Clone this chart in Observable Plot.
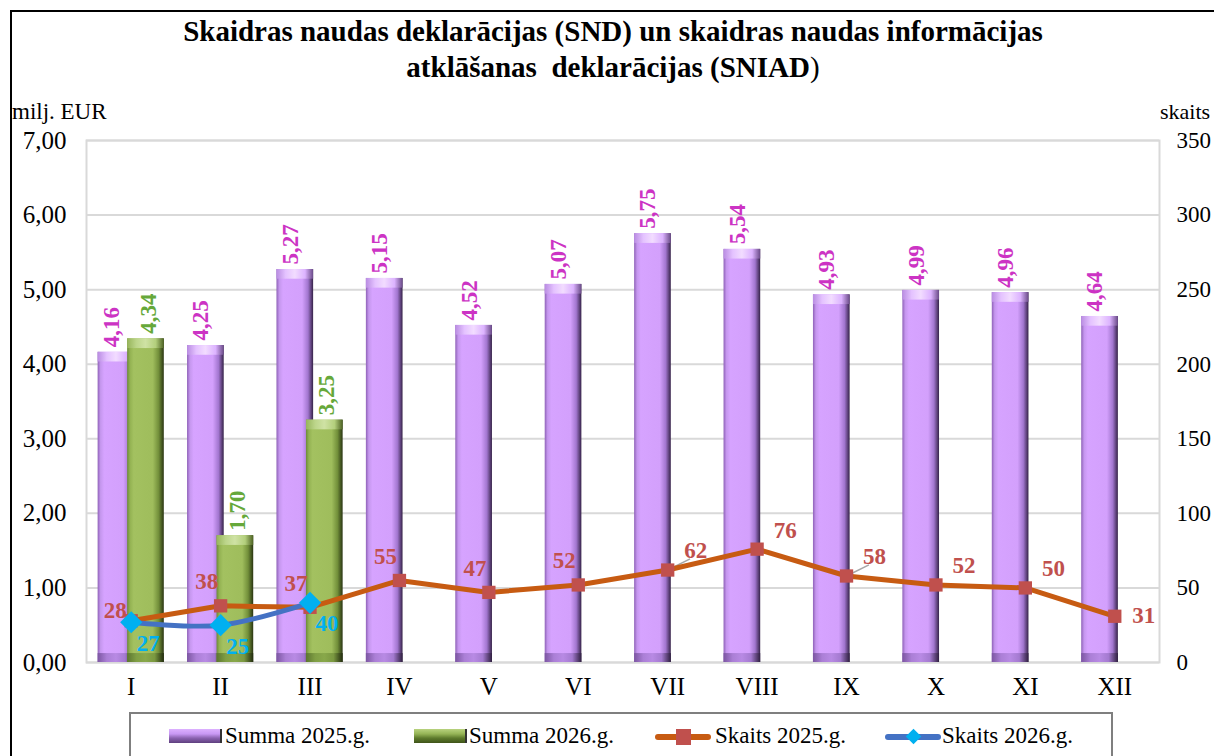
<!DOCTYPE html>
<html>
<head>
<meta charset="utf-8">
<script src="https://cdn.jsdelivr.net/npm/d3@7"></script>
<script src="https://cdn.jsdelivr.net/npm/@observablehq/plot@0.6"></script>
<style>
  body { margin: 0; background: #fff; }
  #wrap { position: relative; width: 1214px; height: 756px; overflow: hidden; font-family: "Liberation Serif", "Times New Roman", serif; color: #000; }
  .abs { position: absolute; white-space: nowrap; }
  .lg-text { font-size: 23px; top: 724px; line-height: 24px; }
</style>
</head>
<body>
<div id="wrap">
  <div class="abs" style="left:10px;top:10px;width:1300px;height:800px;border-left:2px solid #000;border-top:2px solid #000;"></div>
  <div class="abs" id="title" style="left:0;top:13px;width:1226px;text-align:center;font-weight:bold;font-size:29px;line-height:36px;">Skaidras naudas deklarācijas (SND) un skaidras naudas informācijas<br>atklāšanas&nbsp; deklarācijas (SNIAD<span style="font-weight:normal">)</span></div>
  <div class="abs" style="left:12px;top:99px;font-size:23px;">milj. EUR</div>
  <div class="abs" style="left:1160px;top:99px;font-size:22px;">skaits</div>
  <div id="chart" class="abs" style="left:0;top:100px;"></div>
  <div class="abs" style="left:129px;top:712px;width:980px;height:80px;border:2px solid #7f7f7f;"></div>
  <div id="legend"></div>
</div>
<script>
// ---- data ----
const months = ["I","II","III","IV","V","VI","VII","VIII","IX","X","XI","XII"];
const summa2025 = [4.16,4.25,5.27,5.15,4.52,5.07,5.75,5.54,4.93,4.99,4.96,4.64];
const summa2026 = [4.34,1.70,3.25];
const skaits2025 = [28,38,37,55,47,52,62,76,58,52,50,31];
const skaits2026 = [27,25,40];
const leftTicks = [0,1,2,3,4,5,6,7];
const rightTicks = [0,50,100,150,200,250,300,350];
const seriesNames = ["Summa 2025.g.","Summa 2026.g.","Skaits 2025.g.","Skaits 2026.g."];

const k = rightTicks[rightTicks.length-1] / leftTicks[leftTicks.length-1]; // 50
const d25 = months.map((m,i) => ({i, m, v: summa2025[i], c: skaits2025[i] / k, n: skaits2025[i]}));
const d26 = summa2026.map((v,i) => ({i, m: months[i], v, c: skaits2026[i] / k, n: skaits2026[i]}));
const fmt = v => v.toFixed(2).replace(".", ",");

const C = {
  purpleLbl: "#cc33c4", greenLbl: "#66a83a",
  orange: "#c75b12", red: "#c0504d", blue: "#4472c4", cyan: "#00b0f0"
};
const lblFont = {fontWeight: "bold", fontSize: 23, fontFamily: "Liberation Serif"};

const chart = Plot.plot({
  width: 1214, height: 610,
  marginTop: 40, marginBottom: 48, marginLeft: 86, marginRight: 55,
  style: {fontFamily: "Liberation Serif", fontSize: "25px", color: "#000", background: "transparent", overflow: "visible"},
  x: {domain: [-0.5, 11.5], axis: null},
  y: {domain: [0, 7], axis: null},
  marks: [
    Plot.gridY(leftTicks, {stroke: "#d9d9d9", strokeOpacity: 1, strokeWidth: 2}),
    Plot.frame({stroke: "#d9d9d9", strokeWidth: 2}),
    Plot.axisX(months.map((m,i) => i), {tickSize: 0, tickPadding: 15, tickFormat: i => months[i], fontSize: 25, fill: "#000", label: null}),
    Plot.axisY(leftTicks, {anchor: "left", tickSize: 0, tickPadding: 20, tickFormat: fmt, fontSize: 25, fill: "#000", label: null}),
    Plot.axisY(leftTicks, {anchor: "right", tickSize: 0, tickPadding: 17, tickFormat: (d,i) => rightTicks[i], fontSize: 23, fill: "#000", textAnchor: "start", label: null}),
    // 2025 bars
    Plot.rectY(d25, {x1: d => d.i - 0.37, x2: d => d.i + 0.04, y1: 0, y2: "v", fill: "url(#gp)"}),
    Plot.rectY(d25, {x1: d => d.i - 0.37, x2: d => d.i + 0.04, y1: d => d.v - 0.13, y2: "v", fill: "url(#gpcap)"}),
    Plot.rectY(d25, {x1: d => d.i - 0.37, x2: d => d.i + 0.04, y1: 0, y2: 0.12, fill: "url(#gpbot)"}),
    // 2026 bars
    Plot.rectY(d26, {x1: d => d.i - 0.04, x2: d => d.i + 0.37, y1: 0, y2: "v", fill: "url(#gg)"}),
    Plot.rectY(d26, {x1: d => d.i - 0.04, x2: d => d.i + 0.37, y1: d => d.v - 0.13, y2: "v", fill: "url(#ggcap)"}),
    Plot.rectY(d26, {x1: d => d.i - 0.04, x2: d => d.i + 0.37, y1: 0, y2: 0.12, fill: "url(#ggbot)"}),
    // bar labels
    Plot.text(d25, {x: d => d.i - 0.22, y: "v", text: d => fmt(d.v), rotate: -90, textAnchor: "start", dy: -5, fill: C.purpleLbl, ...lblFont}),
    Plot.text(d26, {x: d => d.i + 0.19, y: "v", text: d => fmt(d.v), rotate: -90, textAnchor: "start", dy: -5, fill: C.greenLbl, ...lblFont}),
    // leader lines
    Plot.link(d25.filter(d => d.i === 6 || d.i === 8), {x1: "i", y1: "c", x2: d => d.i + 0.25, y2: d => d.c + 0.15, stroke: "#a6a6a6", strokeWidth: 1.5}),
    // lines
    Plot.line(d25, {x: "i", y: "c", stroke: C.orange, strokeWidth: 5}),
    Plot.line(d26, {x: "i", y: "c", stroke: C.blue, strokeWidth: 5, curve: "catmull-rom"}),
    Plot.dot(d25, {x: "i", y: "c", symbol: "square", r: 7.5, fill: C.red, stroke: "none"}),
    Plot.dot(d26, {x: "i", y: "c", symbol: "diamond2", r: 10, fill: C.cyan, stroke: "none"}),
    // count labels 2025
    Plot.text(d25.filter(d => d.i === 0), {x: "i", y: "c", text: "n", dx: -16, dy: -10, fill: C.red, ...lblFont}),
    Plot.text(d25.filter(d => d.i >= 1 && d.i <= 5), {x: "i", y: "c", text: "n", dx: -14, dy: -24, fill: C.red, ...lblFont}),
    Plot.text(d25.filter(d => d.i >= 6 && d.i <= 10), {x: "i", y: "c", text: "n", dx: 28, dy: -19, fill: C.red, ...lblFont}),
    Plot.text(d25.filter(d => d.i === 11), {x: "i", y: "c", text: "n", dx: 29, dy: -1, fill: C.red, ...lblFont}),
    // count labels 2026
    Plot.text(d26, {x: "i", y: "c", text: "n", dx: 17, dy: 21, fill: C.cyan, ...lblFont})
  ]
});

const defs = `
<defs>
  <linearGradient id="gp" x1="0" x2="1" y1="0" y2="0">
    <stop offset="0" stop-color="#8f62b8"/><stop offset="0.08" stop-color="#c597ee"/>
    <stop offset="0.18" stop-color="#d6a3ff"/><stop offset="0.7" stop-color="#d3a0fc"/>
    <stop offset="0.86" stop-color="#a276cf"/><stop offset="1" stop-color="#352248"/>
  </linearGradient>
  <linearGradient id="gpcap" x1="0" x2="1" y1="0" y2="0">
    <stop offset="0" stop-color="#b98ce2"/><stop offset="0.25" stop-color="#e4c2ff"/>
    <stop offset="0.5" stop-color="#f2dcff"/><stop offset="0.78" stop-color="#dcb3ff"/>
    <stop offset="1" stop-color="#6a4a88"/>
  </linearGradient>
  <linearGradient id="gpbot" x1="0" x2="1" y1="0" y2="0">
    <stop offset="0" stop-color="#7c56a2"/><stop offset="0.25" stop-color="#ab7fd6"/>
    <stop offset="0.5" stop-color="#b88ae4"/><stop offset="0.75" stop-color="#a47ad0"/>
    <stop offset="1" stop-color="#2f1f40"/>
  </linearGradient>
  <linearGradient id="gg" x1="0" x2="1" y1="0" y2="0">
    <stop offset="0" stop-color="#6d8a38"/><stop offset="0.08" stop-color="#93b252"/>
    <stop offset="0.18" stop-color="#a3c160"/><stop offset="0.7" stop-color="#9fbd5c"/>
    <stop offset="0.86" stop-color="#728f3a"/><stop offset="1" stop-color="#2a3612"/>
  </linearGradient>
  <linearGradient id="ggcap" x1="0" x2="1" y1="0" y2="0">
    <stop offset="0" stop-color="#96b45a"/><stop offset="0.25" stop-color="#bcd58a"/>
    <stop offset="0.5" stop-color="#cfe2a4"/><stop offset="0.78" stop-color="#b3cf7c"/>
    <stop offset="1" stop-color="#4d6223"/>
  </linearGradient>
  <linearGradient id="ggbot" x1="0" x2="1" y1="0" y2="0">
    <stop offset="0" stop-color="#5c7530"/><stop offset="0.25" stop-color="#7f9e44"/>
    <stop offset="0.5" stop-color="#88a84a"/><stop offset="0.75" stop-color="#7a9840"/>
    <stop offset="1" stop-color="#222c0e"/>
  </linearGradient>
</defs>`;
chart.insertAdjacentHTML("afterbegin", defs);
document.getElementById("chart").appendChild(chart);

// ---- legend ----
const lg = document.getElementById("legend");
const items = [
  {name: seriesNames[0], kind: "bar", bg: "linear-gradient(to bottom,#dcb0ff 0%,#c898f4 35%,#8a62b0 65%,#5e3f7e 100%)", sx: 169, tx: 225},
  {name: seriesNames[1], kind: "bar", bg: "linear-gradient(to bottom,#b8d27e 0%,#95b456 35%,#5d7a2c 65%,#3f5419 100%)", sx: 414, tx: 469},
  {name: seriesNames[2], kind: "line", line: C.orange, mark: C.red, shape: "square", sx: 655, tx: 715},
  {name: seriesNames[3], kind: "line", line: C.blue, mark: C.cyan, shape: "diamond", sx: 885, tx: 942}
];
items.forEach(it => {
  if (it.kind === "bar") {
    const s = document.createElement("div");
    s.className = "abs";
    s.style.cssText = `left:${it.sx}px;top:729px;width:53px;height:14px;background:${it.bg};box-sizing:border-box;border-right:2px solid #333;`;
    lg.appendChild(s);
  } else {
    const l = document.createElement("div");
    l.className = "abs";
    l.style.cssText = `left:${it.sx}px;top:734px;width:56px;height:6px;border-radius:3px;background:${it.line};`;
    lg.appendChild(l);
    const m = document.createElement("div");
    m.className = "abs";
    if (it.shape === "square") {
      m.style.cssText = `left:${it.sx + 21}px;top:729px;width:15px;height:16px;background:${it.mark};`;
    } else {
      m.style.cssText = `left:${it.sx + 23}px;top:731px;width:11px;height:11px;background:${it.mark};transform:rotate(45deg);`;
    }
    lg.appendChild(m);
  }
  const t = document.createElement("div");
  t.className = "abs lg-text";
  t.style.left = it.tx + "px";
  t.textContent = it.name;
  lg.appendChild(t);
});
</script>
</body>
</html>
